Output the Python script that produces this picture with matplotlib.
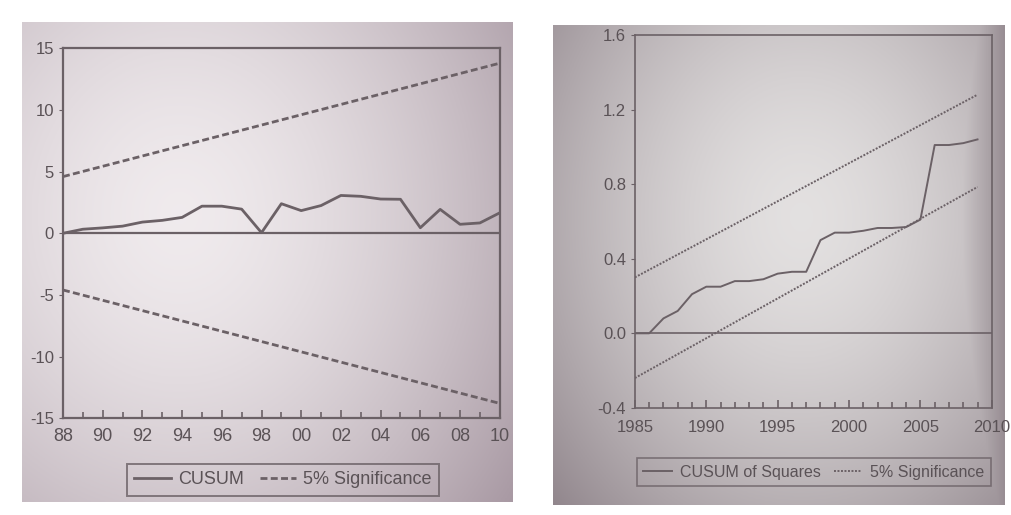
import numpy as np
import matplotlib.pyplot as plt

plt.rcParams['font.family'] = ['Liberation Sans', 'DejaVu Sans']

# left chart: CUSUM
years_l = list(range(1988, 2011))
cusum = [0.0, 0.33, 0.44, 0.58, 0.91, 1.05, 1.29, 2.2, 2.2, 1.96, 0.05, 2.4,
         1.84, 2.25, 3.07, 3.0, 2.78, 2.76, 0.45, 1.94, 0.73, 0.84, 1.66]
band_years_l = [1988, 2010]
upper_l = [4.6, 13.8]
lower_l = [-4.6, -13.8]
xticks_l = list(range(1988, 2011, 2))
xlabels_l = ['88', '90', '92', '94', '96', '98', '00', '02', '04', '06', '08', '10']
yticks_l = [-15, -10, -5, 0, 5, 10, 15]

# right chart: CUSUM of squares
years_r = list(range(1985, 2010))
cusumsq = [0.0, 0.0, 0.08, 0.12, 0.21, 0.25, 0.25, 0.28, 0.28, 0.29, 0.32, 0.33,
           0.33, 0.50, 0.54, 0.54, 0.55, 0.565, 0.565, 0.57, 0.61, 1.01, 1.01,
           1.02, 1.04]
band_years_r = [1985, 2009]
upper_r = [0.30, 1.28]
lower_r = [-0.24, 0.785]
xticks_r = [1985, 1990, 1995, 2000, 2005, 2010]
yticks_r = [-0.4, 0.0, 0.4, 0.8, 1.2, 1.6]

ink = '#6b6166'
txt = '#5a5256'

fig = plt.figure(figsize=(10.11, 5.15), dpi=100)
fig.patch.set_facecolor('white')


def paper(rect, light, dark, cx, cy, edge):
    # photo-like shaded paper behind each chart
    bx = fig.add_axes(rect, zorder=0)
    yy, xx = np.mgrid[0:1:240j, 0:1:240j]
    r = np.sqrt(((xx - cx) / 0.85) ** 2 + ((yy - cy) / 1.0) ** 2)
    t = np.clip(r, 0, 1) ** 1.6
    t = np.maximum(t, np.clip((xx - 0.86) / 0.14, 0, 1) * edge)
    img = np.array(light)[None, None, :] * (1 - t)[..., None] + np.array(dark)[None, None, :] * t[..., None]
    bx.imshow(img, extent=[0, 1, 0, 1], aspect='auto', origin='lower')
    bx.axis('off')


paper([0.0218, 0.025, 0.485, 0.932], (0.94, 0.92, 0.93), (0.66, 0.60, 0.64), 0.32, 0.6, 0.55)
paper([0.547, 0.0194, 0.447, 0.932], (0.89, 0.88, 0.88), (0.50, 0.45, 0.48), 0.55, 0.6, 0.75)


def style(ax):
    ax.set_facecolor('none')
    for s in ax.spines.values():
        s.set_color(ink)
        s.set_linewidth(1.6)
    ax.tick_params(axis='x', which='both', direction='in', colors=ink, labelcolor=txt, width=1.2)
    ax.tick_params(axis='x', which='major', length=6)
    ax.tick_params(axis='x', which='minor', length=4)
    ax.tick_params(axis='y', direction='out', length=3, colors=ink, labelcolor=txt)


# ---- left
ax1 = fig.add_axes([0.0623, 0.188, 0.432, 0.718], zorder=2)
style(ax1)
l1, = ax1.plot(years_l, cusum, color=ink, lw=2.0, label='CUSUM')
l2, = ax1.plot(band_years_l, upper_l, color=ink, lw=2.0, ls=(0, (2.5, 1.2)), label='5% Significance')
ax1.plot(band_years_l, lower_l, color=ink, lw=2.0, ls=(0, (2.5, 1.2)))
ax1.axhline(0, color=ink, lw=1.6)
ax1.set_xlim(1988, 2010)
ax1.set_ylim(-15, 15)
ax1.set_xticks(xticks_l)
ax1.set_xticklabels(xlabels_l, fontsize=13)
ax1.set_xticks(years_l, minor=True)
ax1.set_yticks(yticks_l)
ax1.set_yticklabels([str(v) for v in yticks_l], fontsize=12)
ax1.tick_params(axis='x', pad=7)
leg1 = fig.legend(handles=[l1, l2], loc='center', bbox_to_anchor=(0.28, 0.068),
                  ncol=2, frameon=True, fontsize=13, handlelength=2.0,
                  columnspacing=0.9, handletextpad=0.4, fancybox=False,
                  labelcolor=txt)
leg1.get_frame().set_edgecolor(ink)
leg1.get_frame().set_linewidth(1.4)
leg1.get_frame().set_facecolor('none')

# ---- right
ax2 = fig.add_axes([0.628, 0.208, 0.353, 0.724], zorder=2)
style(ax2)
r1, = ax2.plot(years_r, cusumsq, color=ink, lw=1.4, label='CUSUM of Squares')
r2, = ax2.plot(band_years_r, upper_r, color=ink, lw=1.4, ls=(0, (1, 0.8)), label='5% Significance')
ax2.plot(band_years_r, lower_r, color=ink, lw=1.4, ls=(0, (1, 0.8)))
ax2.axhline(0, color=ink, lw=1.2)
ax2.set_xlim(1985, 2010)
ax2.set_ylim(-0.4, 1.6)
ax2.set_xticks(xticks_r)
ax2.set_xticklabels([str(v) for v in xticks_r], fontsize=12)
ax2.set_xticks(list(range(1985, 2011)), minor=True)
ax2.set_yticks(yticks_r)
ax2.set_yticklabels(['%.1f' % v for v in yticks_r], fontsize=12)
ax2.tick_params(axis='x', pad=9)
for s in ax2.spines.values():
    s.set_linewidth(1.2)
leg2 = fig.legend(handles=[r1, r2], loc='center', bbox_to_anchor=(0.805, 0.083),
                  ncol=2, frameon=True, fontsize=11.5, handlelength=1.8,
                  columnspacing=0.8, handletextpad=0.5, fancybox=False,
                  labelcolor=txt)
leg2.get_frame().set_edgecolor(ink)
leg2.get_frame().set_linewidth(1.2)
leg2.get_frame().set_facecolor('none')

fig.savefig('out.png', dpi=100, facecolor='white')
